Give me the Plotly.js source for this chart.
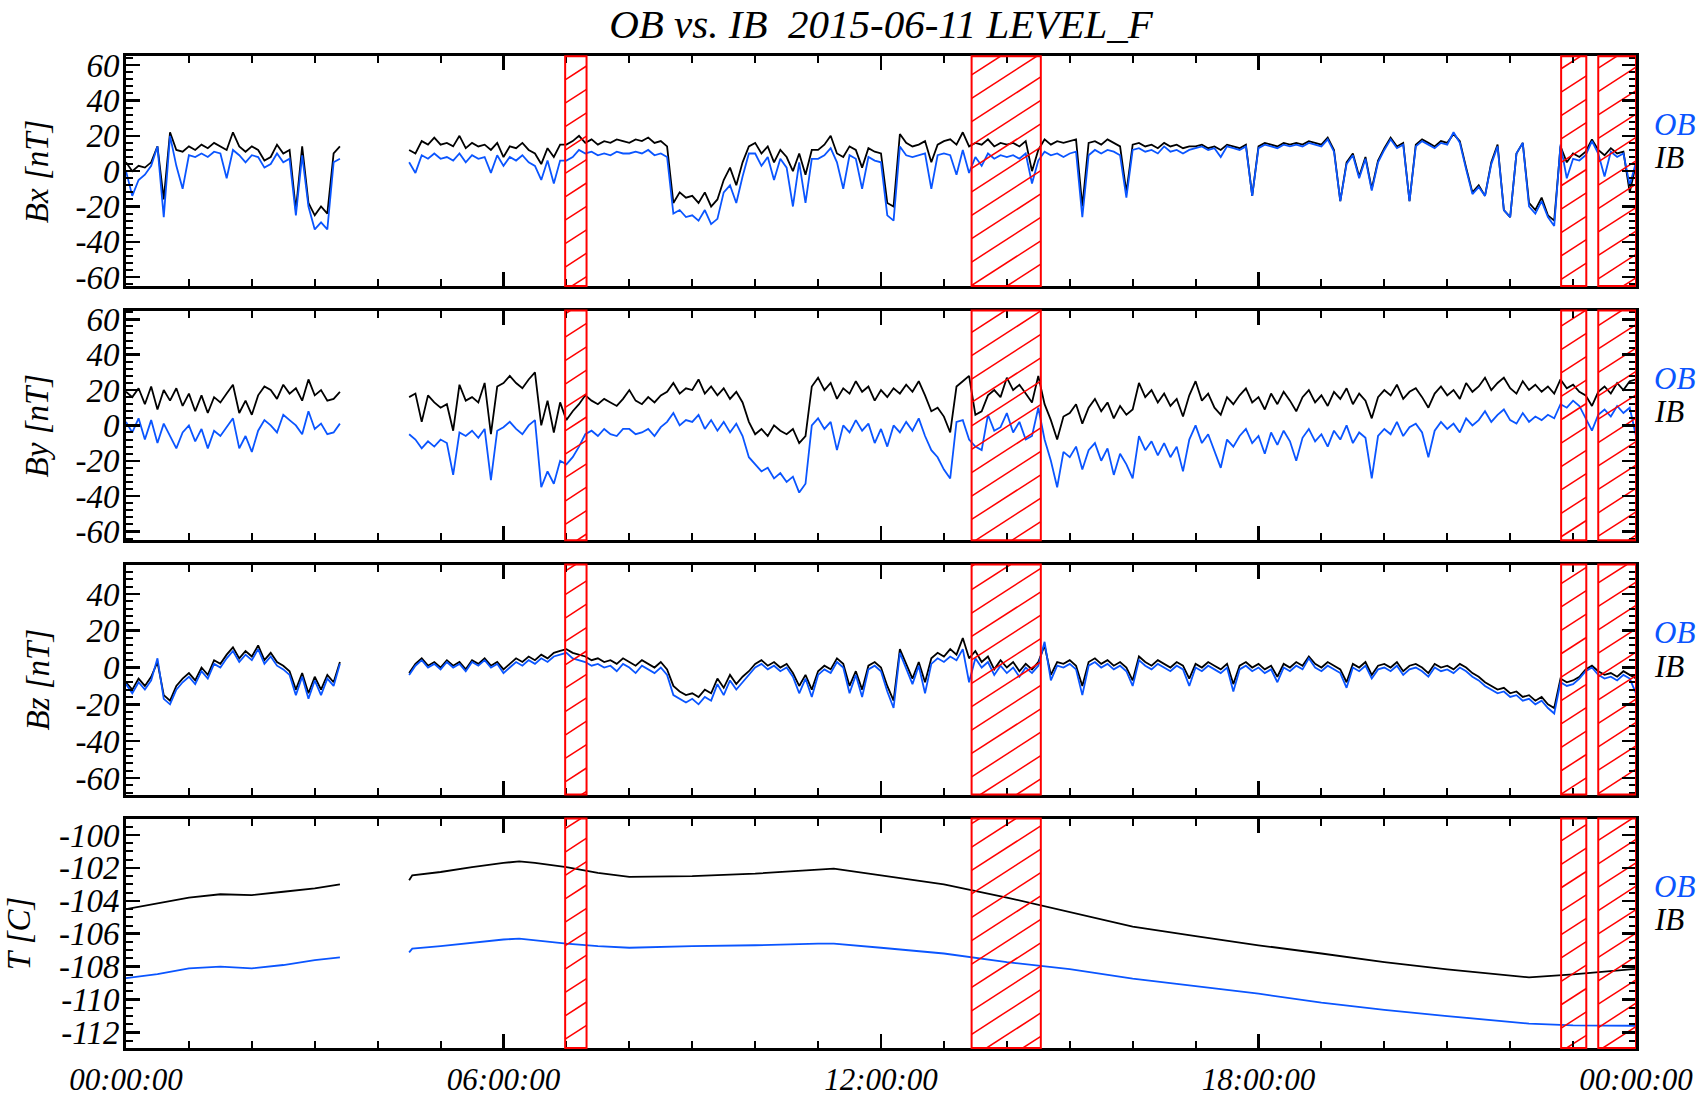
<!DOCTYPE html>
<html><head><meta charset="utf-8">
<script src="https://cdn.plot.ly/plotly-3.0.1.min.js"></script>
<style>html,body{margin:0;padding:0;background:#fff}#chart{width:1698px;height:1096px}</style>
</head><body><div id="chart"></div>
<script>
// ---------------- DATA (hours of day 2015-06-11, sampled every 0.1 h) ----------------
const STEP_H = 0.1;
const N = null;
const bxIB = [
 5,0,3,2,5,14,-16,22,12,11,
 14,12,15,13,16,14,12,22,14,11,
 14,12,6,8,15,10,12,-22,14,-18,
 -25,-20,-24,10,14,N,N,N,N,N,
 N,N,N,N,N,12,10,17,15,19,
 15,16,14,20,13,16,14,15,12,16,
 8,14,13,16,12,10,4,13,8,15,
 15,17,20,16,18,15,17,16,18,17,
 16,18,17,19,16,17,14,-18,-12,-15,
 -14,-18,-12,-20,-16,-5,2,-8,5,14,
 16,10,14,5,12,8,0,10,-2,12,
 12,15,20,10,8,14,12,2,13,11,
 10,-18,-20,21,16,14,15,17,5,15,
 17,18,15,22,14,16,15,18,14,16,
 15,16,14,17,0,12,18,15,17,16,
 17,18,-20,16,17,15,18,16,14,-12,
 15,16,14,15,13,16,14,15,13,14,
 14,15,13,14,12,15,14,13,15,-14,
 14,16,15,14,16,15,16,15,17,16,
 15,19,12,-17,5,10,-3,8,-10,6,
 13,19,14,16,-17,15,18,16,14,17,
 16,21,17,2,-12,-8,-14,5,15,-22,
 -26,10,16,-18,-22,-15,-25,-28,14,5,
 10,8,11,18,12,9,13,10,11,-12,
 4];
const bxOB = [
 0,-14,-5,-2,3,14,-26,20,3,-10,
 9,8,10,8,11,10,-4,12,9,5,
 9,8,2,4,10,5,7,-25,9,-20,
 -33,-29,-33,5,7,N,N,N,N,N,
 N,N,N,N,N,5,-1,9,7,10,
 7,8,6,10,5,9,7,8,-1,9,
 3,8,6,9,5,3,-5,6,-7,6,
 6,8,12,10,11,9,10,9,11,10,
 10,11,10,12,9,10,8,-24,-22,-26,
 -25,-28,-22,-30,-27,-12,-8,-18,-3,10,
 10,3,8,-5,7,2,-20,5,-18,7,
 7,9,13,5,-10,9,7,-10,8,6,
 5,-25,-28,14,9,8,9,10,-10,9,
 10,9,-2,12,-1,8,3,10,7,9,
 8,9,7,10,-7,6,11,9,10,8,
 10,11,-26,9,12,10,12,11,9,-15,
 12,13,11,12,10,14,11,12,10,12,
 13,14,12,13,8,14,13,12,14,-14,
 13,15,14,13,15,14,15,14,16,15,
 14,18,11,-17,4,9,-4,7,-11,5,
 12,18,13,15,-17,14,17,15,13,16,
 15,22,16,1,-13,-9,-14,4,14,-22,
 -26,10,16,-20,-24,-17,-26,-31,15,-4,
 7,6,9,17,10,-3,11,8,10,-8,
 5];
const byIB = [
 19,16,21,12,22,9,20,14,21,11,
 18,8,17,7,16,13,18,23,7,14,
 6,17,22,20,15,23,18,21,14,26,
 17,20,14,15,19,N,N,N,N,N,
 N,N,N,N,N,16,18,2,17,13,
 10,12,-3,23,14,16,13,24,-5,22,
 24,28,24,21,26,30,0,14,-4,13,
 3,8,12,17,14,12,15,13,11,15,
 20,14,12,16,13,17,19,24,18,21,
 20,26,18,22,17,21,15,19,13,2,
 -5,-2,-6,0,-3,-5,-2,-10,-6,22,
 27,20,24,15,21,18,25,19,22,14,
 20,16,21,18,23,19,25,17,8,10,
 5,-4,22,25,28,6,8,17,20,16,
 27,20,23,18,13,28,12,3,-8,5,
 7,12,1,10,15,8,13,4,11,6,
 9,24,16,20,13,18,11,15,5,17,
 25,14,18,10,6,16,12,17,21,13,
 16,9,18,12,19,14,8,16,20,13,
 17,11,19,15,21,12,18,14,4,16,
 20,17,23,15,19,21,16,10,18,22,
 17,20,15,24,19,22,27,20,24,27,
 21,18,25,20,23,19,22,18,26,21,
 23,19,17,11,19,22,18,24,20,25,
 26];
const byOB = [
 2,-4,4,-8,3,-10,1,-6,-13,-4,
 0,-9,-2,-13,-3,-6,-1,4,-13,-6,
 -15,-3,3,0,-4,6,3,0,-5,8,
 -2,1,-5,-4,1,N,N,N,N,N,
 N,N,N,N,N,-5,-8,-13,-9,-12,
 -8,-10,-28,-4,-6,-3,-7,-2,-31,-3,
 -1,2,-2,-5,0,3,-35,-26,-33,-20,
 -22,-18,-12,-5,-3,-6,-2,-5,-6,-2,
 -2,-5,-4,-2,-6,-1,2,7,0,3,
 2,6,-2,3,-3,2,-4,1,-6,-18,
 -22,-26,-24,-30,-27,-32,-29,-38,-33,0,
 4,-2,2,-14,0,-4,3,-3,1,-10,
 -2,-12,0,-4,2,-3,4,-6,-14,-18,
 -25,-30,2,3,-8,-12,-14,6,-3,-1,
 7,-4,2,-8,-6,10,-8,-20,-35,-15,
 -18,-12,-25,-14,-10,-20,-13,-28,-16,-22,
 -30,-6,-14,-9,-17,-10,-18,-12,-26,-8,
 0,-10,-5,-14,-24,-8,-12,-6,-2,-10,
 -6,-16,-4,-11,-3,-9,-20,-7,-2,-9,
 -5,-12,-3,-8,0,-10,-4,-7,-30,-6,
 -2,-5,2,-6,-1,1,-4,-18,-3,2,
 -2,1,-4,4,0,3,8,2,6,9,
 3,1,7,2,5,3,6,4,12,10,
 14,11,4,-3,6,9,5,11,7,10,
 -6];
const bzIB = [
 -8,-12,-6,-10,-5,3,-15,-18,-10,-6,
 -3,-7,0,-4,4,2,7,11,5,9,
 6,12,4,8,3,1,-2,-12,-3,-14,
 -5,-12,-4,-8,3,N,N,N,N,N,
 N,N,N,N,N,-3,2,5,1,3,
 0,4,1,3,-1,4,2,5,1,3,
 -1,2,5,3,6,4,7,5,8,9,
 10,8,7,6,4,5,3,4,2,5,
 3,1,4,2,0,3,-1,-10,-13,-15,
 -14,-16,-12,-14,-6,-11,-4,-9,-5,-2,
 2,4,1,3,0,2,-3,-10,-4,-12,
 -2,1,-1,5,2,-10,-2,-12,1,3,
 0,-10,-18,10,2,-6,3,-8,5,8,
 6,10,7,16,5,9,3,6,-1,4,
 0,3,-2,2,-1,3,12,-4,3,2,
 4,1,-10,3,5,2,4,1,3,0,
 -7,6,3,1,4,2,0,3,1,-6,
 2,0,3,1,-1,2,-9,1,3,0,
 2,-1,1,-5,2,0,3,1,6,2,
 0,3,1,-1,-8,2,0,3,-4,1,
 2,0,3,-2,1,2,0,-3,2,0,
 1,-1,2,0,-3,-5,-8,-10,-12,-11,
 -14,-13,-16,-15,-18,-16,-20,-22,-6,-8,
 -7,-5,-1,1,-2,-4,-3,-5,-2,-4,
 -6];
const bzOB = [
 -9,-14,-8,-12,-7,5,-17,-20,-12,-8,
 -5,-9,-2,-6,2,0,5,9,3,7,
 4,10,2,6,1,-1,-4,-15,-5,-17,
 -7,-15,-6,-10,2,N,N,N,N,N,
 N,N,N,N,N,-4,1,4,0,2,
 -1,3,0,2,-2,3,1,4,0,2,
 -3,0,3,1,4,2,5,3,6,7,
 8,5,4,3,1,2,0,1,-2,2,
 0,-3,1,-1,-3,0,-4,-15,-17,-19,
 -17,-20,-16,-18,-9,-15,-7,-12,-8,-4,
 0,2,-1,1,-2,0,-5,-14,-6,-16,
 -4,-1,-3,3,0,-14,-4,-16,-1,1,
 -2,-13,-22,8,0,-9,1,-14,2,5,
 3,6,4,10,-8,5,0,3,-4,1,
 -3,0,-5,0,-3,1,14,-7,1,0,
 2,-1,-15,1,3,0,2,-1,1,-2,
 -10,4,1,-1,2,0,-2,1,-1,-10,
 0,-2,1,-1,-3,0,-13,-1,1,-2,
 0,-3,-1,-8,0,-2,1,-1,5,0,
 -2,1,-1,-3,-11,0,-2,1,-6,-1,
 0,-2,1,-4,-1,0,-2,-5,0,-2,
 -1,-3,0,-2,-5,-7,-10,-12,-14,-13,
 -16,-15,-18,-17,-20,-18,-22,-25,-8,-10,
 -9,-6,-2,0,-4,-6,-5,-7,-4,-6,
 -14];
// temperature samples (hours, degC)
const tHours = [0,0.5,1,1.5,2,2.5,3,3.4,3.9,4.5,4.55,5,5.5,6,6.25,6.5,7,7.5,8,9,10,11,11.25,12,13,14,15,16,17,18,19,20,21,22,22.3,23,24];
const tIB = [-104.5,-104.15,-103.8,-103.6,-103.65,-103.45,-103.25,-103.0,N,-102.75,-102.45,-102.25,-101.95,-101.7,-101.6,-101.7,-101.95,-102.3,-102.55,-102.5,-102.35,-102.1,-102.05,-102.45,-103.0,-103.8,-104.68,-105.57,-106.15,-106.7,-107.2,-107.72,-108.17,-108.55,-108.65,-108.47,-108.13];
const tOB = [-108.7,-108.45,-108.1,-108.0,-108.1,-107.9,-107.6,-107.43,N,-107.13,-106.9,-106.75,-106.55,-106.35,-106.3,-106.4,-106.6,-106.75,-106.85,-106.75,-106.7,-106.6,-106.6,-106.85,-107.2,-107.72,-108.15,-108.72,-109.2,-109.64,-110.18,-110.62,-111.0,-111.37,-111.46,-111.56,-111.59];
// flagged intervals (hours)
const flagStart = [6.98, 13.44, 22.81, 23.40];
const flagEnd   = [7.32, 14.54, 23.21, 24.0];
// axis labels
const xTickVals = [0, 6, 12, 18, 24];
const xTickText = ['00:00:00', '06:00:00', '12:00:00', '18:00:00', '00:00:00'];
const bTickVals = [-60, -40, -20, 0, 20, 40, 60];
const bTickText = ['-60', '-40', '-20', '0', '20', '40', '60'];
const tTickVals = [-112, -110, -108, -106, -104, -102, -100];
const tTickText = ['-112', '-110', '-108', '-106', '-104', '-102', '-100'];
const panelTitles = ['Bx [nT]', 'By [nT]', 'Bz [nT]', 'T [C]'];
const seriesNames = ['OB', 'IB'];
const titleText = 'OB vs. IB\u00a0 2015-06-11 LEVEL_F';

// ---------------- LAYOUT / STYLE ----------------
const W = 1698, H = 1096, ML = 126, MR = 62, MT = 56, MB = 48;
const plotW = W - ML - MR, plotH = H - MT - MB;
const panelPx = [[56.3, 286], [310.5, 540.3], [564.5, 794.5], [818.5, 1048]];
const ranges = [[-65, 65], [-65, 65], [-69, 56], [-112.94, -99.0]];
const FONT = 'Liberation Serif, DejaVu Serif, serif';
const BLUE = '#0a55ff';
const hours = bxIB.map((_, i) => +(i * STEP_H).toFixed(2));

const seriesIB = [bxIB, byIB, bzIB];
const seriesOB = [bxOB, byOB, bzOB];

const traces = [];
const suf = i => (i === 0 ? '' : String(i + 1));
for (let p = 0; p < 4; p++) {
  const xa = 'x' + suf(p), ya = 'y' + suf(p);
  let xIB, yIB, xOB, yOB;
  if (p < 3) { xIB = hours; yIB = seriesIB[p]; xOB = hours; yOB = seriesOB[p]; }
  else { xIB = tHours; yIB = tIB; xOB = tHours; yOB = tOB; }
  traces.push({x: xIB, y: yIB, xaxis: xa, yaxis: ya, type: 'scatter', mode: 'lines',
    line: {color: 'black', width: 1.8}, hoverinfo: 'skip', showlegend: false});
  traces.push({x: xOB, y: yOB, xaxis: xa, yaxis: ya, type: 'scatter', mode: 'lines',
    line: {color: BLUE, width: 1.8}, hoverinfo: 'skip', showlegend: false});
}

// hatch lines for flagged intervals (45 deg in window-normalised coordinates)
const SLOPE = H / W, SPACING = 23.4;
const xpx = h => ML + h / 24 * plotW;
const hOf = px => (px - ML) / plotW * 24;
for (let p = 0; p < 4; p++) {
  const [Yt, Yb] = panelPx[p];
  const [r0, r1] = ranges[p];
  const vOf = py => r0 + (Yb - py) / (Yb - Yt) * (r1 - r0);
  const hx = [], hy = [];
  for (let f = 0; f < flagStart.length; f++) {
    const X0 = xpx(flagStart[f]), X1 = xpx(flagEnd[f]);
    const cmin = SLOPE * X0 + Yt, cmax = SLOPE * X1 + Yb;
    for (let k = Math.ceil(cmin / SPACING); k * SPACING <= cmax; k++) {
      const c = k * SPACING;
      let xa = X0, xb = X1;
      if (c - SLOPE * xa > Yb) xa = (c - Yb) / SLOPE;
      if (c - SLOPE * xb < Yt) xb = (c - Yt) / SLOPE;
      if (xb <= xa) continue;
      hx.push(hOf(xa), hOf(xb), null);
      hy.push(vOf(c - SLOPE * xa), vOf(c - SLOPE * xb), null);
    }
  }
  traces.push({x: hx, y: hy, xaxis: 'x' + suf(p), yaxis: 'y' + suf(p), type: 'scatter', mode: 'lines',
    line: {color: 'red', width: 1.5}, hoverinfo: 'skip', showlegend: false});
}

const layout = {
  width: W, height: H,
  margin: {l: ML, r: MR, t: MT, b: MB, pad: 0},
  paper_bgcolor: 'white', plot_bgcolor: 'white',
  showlegend: false,
  font: {family: FONT, size: 30, color: 'black', style: 'italic'},
  title: {text: titleText, font: {family: FONT, size: 41, color: 'black', style: 'italic'},
          x: 0.5, xref: 'paper', y: 1 - 24 / H, yref: 'container', yanchor: 'middle'},
  shapes: [], annotations: []
};
const toPaperY = py => (H - MB - py) / plotH;
for (let p = 0; p < 4; p++) {
  const [Yt, Yb] = panelPx[p];
  layout['xaxis' + suf(p)] = {
    range: [0, 24], anchor: 'y' + suf(p), domain: [0, 1],
    showline: true, linewidth: 3, linecolor: 'black', mirror: 'allticks',
    ticks: 'inside', ticklen: 14, tickwidth: 2.5, tickcolor: 'black',
    tickmode: 'array', tickvals: xTickVals, ticktext: xTickText,
    showticklabels: p === 3, ticklabelstandoff: 2,
    tickfont: {family: FONT, size: 31, color: 'black', style: 'italic'},
    minor: {tickmode: 'linear', tick0: 0, dtick: 1, ticks: 'inside', ticklen: 7, tickwidth: 2, tickcolor: 'black', showgrid: false},
    showgrid: false, zeroline: false, fixedrange: true
  };
  const isT = p === 3;
  layout['yaxis' + suf(p)] = {
    range: ranges[p], anchor: 'x' + suf(p), domain: [toPaperY(Yb), toPaperY(Yt)],
    showline: true, linewidth: 3, linecolor: 'black', mirror: 'allticks',
    ticks: 'inside', ticklen: 14, tickwidth: 2.5, tickcolor: 'black',
    tickmode: 'array', tickvals: isT ? tTickVals : bTickVals, ticktext: isT ? tTickText : bTickText,
    ticklabelstandoff: -3,
    tickfont: {family: FONT, size: 33, color: 'black', style: 'italic'},
    minor: {tickmode: 'linear', tick0: 0, dtick: isT ? 0.5 : 4, ticks: 'inside', ticklen: 7, tickwidth: 2, tickcolor: 'black', showgrid: false},
    showgrid: false, zeroline: false, fixedrange: true
  };
  for (let f = 0; f < flagStart.length; f++) {
    layout.shapes.push({type: 'rect', xref: 'x' + suf(p), yref: 'y' + suf(p) + ' domain',
      x0: flagStart[f], x1: flagEnd[f], y0: 0, y1: 1, layer: 'above',
      line: {color: 'red', width: 2}, fillcolor: 'rgba(0,0,0,0)'});
  }
  const cy = (Yt + Yb) / 2;
  const titleX = isT ? 19 : 37;
  layout.annotations.push({text: panelTitles[p], xref: 'paper', yref: 'paper',
    x: (titleX - ML) / plotW, y: toPaperY(cy), xanchor: 'center', yanchor: 'middle',
    textangle: -90, showarrow: false, font: {family: FONT, size: 33, color: 'black', style: 'italic'}});
  layout.annotations.push({text: seriesNames[0], xref: 'paper', yref: 'paper',
    x: (1652 - ML) / plotW, y: toPaperY(cy - 47), xanchor: 'left', yanchor: 'middle',
    showarrow: false, font: {family: FONT, size: 31, color: BLUE, style: 'italic'}});
  layout.annotations.push({text: seriesNames[1], xref: 'paper', yref: 'paper',
    x: (1652 - ML) / plotW, y: toPaperY(cy - 13.5), xanchor: 'left', yanchor: 'middle',
    showarrow: false, font: {family: FONT, size: 31, color: 'black', style: 'italic'}});
}

Plotly.newPlot('chart', traces, layout, {staticPlot: true, displayModeBar: false});
</script>
</body></html>
